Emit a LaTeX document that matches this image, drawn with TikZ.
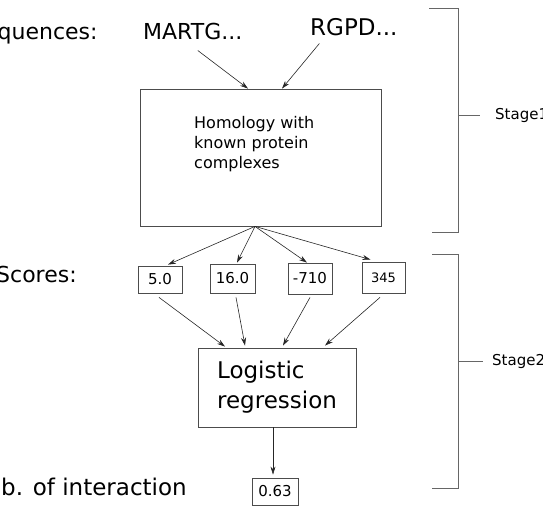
\documentclass[tikz,border=0pt]{standalone}
\usepackage{fontspec}
\setmainfont{DejaVu Sans}
\usetikzlibrary{arrows.meta,calc}
\begin{document}
\begin{tikzpicture}[x=1pt,y=-1pt,
  lbl/.style={inner sep=0,anchor=base west,font=\fontsize{22}{26}\selectfont},
  boxline/.style={draw=black!70,line width=0.8pt},
  score/.style={boxline,inner sep=0,font=\fontsize{15}{18}\selectfont},
  arr/.style={draw=black!85,line width=0.6pt,-{Stealth[length=8pt,width=5pt]}},
  brk/.style={draw=black!60,line width=0.8pt},
  stg/.style={inner sep=0,anchor=west,font=\fontsize{15}{18}\selectfont}]
\useasboundingbox (0,0) rectangle (543,510);
\clip (0,0) rectangle (543,510);
% left labels
\node[lbl] (seq) at (-30,40) {Sequences:};
\node[lbl] (sco) at (-4,283) {Scores:};
\node[lbl,font=\fontsize{23}{27}\selectfont] (prob) at (-35.5,495) {Prob. of interaction};
% sequences
\node[lbl] (m) at (143,40) {MARTG...};
\node[lbl,font=\fontsize{23}{27}\selectfont] (r) at (310,36) {RGPD...};
% homology box
\node[boxline,minimum width=241,minimum height=137,inner sep=0] (hom) at (260.5,157.5) {};
\node[inner sep=0,anchor=base west,align=left,font=\fontsize{16}{20}\selectfont] (homt) at (194,169) {Homology with\\known protein\\complexes};
\coordinate (hs) at ($(hom.south)+(-5.5,0)$);
\draw[arr] ($(m.south)+(5,10)$) -- ($(hom.north)+(-12.5,0)$);
\draw[arr] ($(r.south)+(-34.5,7)$) -- ($(hom.north)+(21.5,0)$);
% scores
\node[score,minimum width=44,minimum height=27] (s1) at (160,279.5) {5.0};
\node[score,minimum width=45,minimum height=29] (s2) at (232.5,278.5) {16.0};
\node[score,minimum width=44,minimum height=31] (s3) at (310,278.5) {-710};
\node[score,minimum width=43,minimum height=31,font=\fontsize{13}{16}\selectfont] (s4) at (383.5,277.5) {345};
\draw[arr] (hs) -- ($(s1.north)+(8,-1)$);
\draw[arr] (hs) -- ($(s2.north)+(4.5,-1)$);
\draw[arr] (hs) -- ($(s3.north)+(-3,0)$);
\draw[arr] (hs) -- ($(s4.north)+(-13,-2)$);
% logistic regression
\node[boxline,minimum width=158,minimum height=79,align=left,font=\fontsize{23}{30}\selectfont] (lr) at (277,387.5) {Logistic\\regression};
\draw[arr] ($(s1.south)+(-1,4)$) -- ($(lr.north)+(-52,-1)$);
\draw[arr] ($(s2.south)+(3.5,4)$) -- ($(lr.north)+(-32,-2)$);
\draw[arr] ($(s3.south)+(0,3)$) -- ($(lr.north)+(6,-2)$);
\draw[arr] ($(s4.south)+(-3.5,4)$) -- ($(lr.north)+(48,-2)$);
% output
\node[score,minimum width=46,minimum height=27] (p) at (275,491.5) {0.63};
\draw[arr] ($(lr.south)+(-4,0)$) -- ($(p.north)+(-2,-3)$);
% brackets
\draw[brk] (429,8) -- (458,8) -- (458,232) -- (432,232);
\draw[brk] (458,115) -- (480,115);
\node[stg] (st1) at (495,115) {Stage1};
\draw[brk] (432,254) -- (458,254) -- (458,488) -- (432,488);
\draw[brk] (458,361) -- (483,361);
\node[stg] (st2) at (492,361) {Stage2};
\end{tikzpicture}
\end{document}
